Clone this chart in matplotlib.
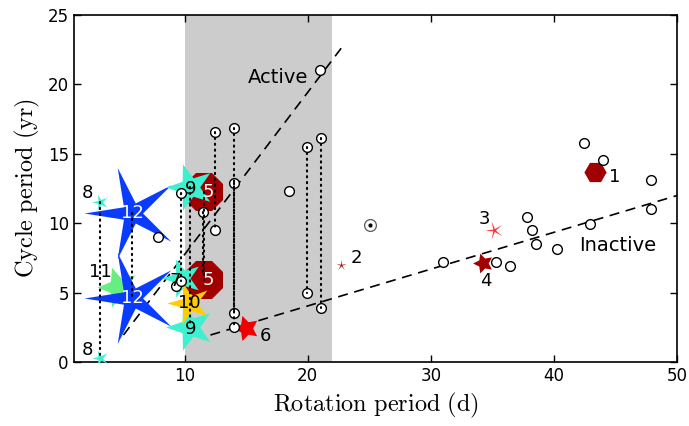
import numpy as np
import matplotlib
matplotlib.use("Agg")
import matplotlib.pyplot as plt
from matplotlib.path import Path
from matplotlib.markers import MarkerStyle
from matplotlib.transforms import Affine2D

plt.rcParams["mathtext.fontset"] = "cm"
plt.rcParams["font.family"] = ["DejaVu Sans"]

# ---- data -------------------------------------------------------------
# single-cycle comparison stars (rotation period d, cycle period yr)
single_prot = [7.83, 9.32, 18.5, 21.0, 30.98, 35.3, 36.4, 37.8, 38.2, 38.5,
               40.2, 42.4, 43.95, 42.95, 47.9, 47.9]
single_pcyc = [9.03, 5.48, 12.32, 21.0, 7.18, 7.18, 6.92, 10.42, 9.51, 8.5,
               8.12, 15.75, 14.55, 9.94, 13.11, 11.0]

# comparison stars with two cycles (long and short cycle at the same rotation)
double_prot = [9.73, 11.49, 12.44, 14.0, 14.0, 19.97, 21.1]
double_long = [12.15, 10.83, 16.55, 16.88, 12.87, 15.46, 16.16]
double_short = [5.84, 6.4, 9.51, 3.5, 2.5, 4.99, 3.86]

# the Sun
sun_prot = 25.07
sun_pcyc = 9.87

# numbered sample stars
num_id = [1, 2, 3, 4, 5, 5, 6, 7, 8, 8, 9, 9, 10, 11, 12, 12]
num_prot = [43.3, 22.68, 35.15, 34.2, 11.6, 11.6, 14.96, 9.8, 3.12, 3.12,
            10.4, 10.4, 10.35, 4.6, 5.74, 5.74]
num_pcyc = [13.7, 6.99, 9.51, 7.11, 12.22, 5.9, 2.45, 6.03, 11.55, 0.27,
            12.6, 2.5, 4.22, 5.4, 10.77, 4.59]

# active / inactive sequences
active_x = [5.04, 22.8]
active_y = [1.95, 22.7]
inactive_x = [12.1, 50.0]
inactive_y = [1.95, 12.0]

# ---- styles -----------------------------------------------------------
def star_marker(inner, rot):
    n = 5
    ang = np.deg2rad(90 + np.arange(2 * n) * 180.0 / n)
    rad = np.where(np.arange(2 * n) % 2 == 0, 1.0, inner)
    verts = np.column_stack([rad * np.cos(ang), rad * np.sin(ang)])
    verts = np.vstack([verts, verts[:1]])
    path = Path(verts, closed=True)
    return MarkerStyle(path, transform=Affine2D().rotate_deg(rot))


style = {
    1: dict(marker="H", ms=16, color="#a00000", txt=(14, -4), tc="k", z=2),
    2: dict(marker=star_marker(0.15, 0), ms=8, color="#a00000", txt=(11, 5), tc="k", z=2),
    3: dict(marker=star_marker(0.15, 18), ms=14, color="#ff3333", txt=(-7, 8), tc="k", z=2),
    4: dict(marker=star_marker(0.5, 18), ms=15, color="#a00000", txt=(2, -13), tc="k", z=2),
    5: dict(marker="8", ms=29, color="#a00000", txt=(3, 0), tc="w", z=2.2),
    6: dict(marker=star_marker(0.5, 18), ms=19, color="#ee0000", txt=(14, -6), tc="k", z=2),
    7: dict(marker=star_marker(0.4, 18), ms=29, color="#3ef0cf", txt=(-5, -2), tc="k", z=2.5),
    8: dict(marker=star_marker(0.3, 18), ms=12, color="#3ef0cf", txt=(-9, 6), tc="k", z=2.6),
    9: dict(marker=star_marker(0.4, 18), ms=35, color="#3ef0cf", txt=(1, -1), tc="k", z=2.3),
    10: dict(marker=star_marker(0.35, 18), ms=32, color="#ffcc00", txt=(0, 0), tc="k", z=2.6),
    11: dict(marker=star_marker(0.45, 18), ms=30, color="#66ee80", txt=(-13, 11), tc="k", z=2.0),
    12: dict(marker=star_marker(0.22, 18), ms=69, color="#0a3cff", txt=(0, 0), tc="w", z=2.1),
}

# ---- figure -----------------------------------------------------------
fig = plt.figure(figsize=(6.89, 4.26), dpi=100)
ax = fig.add_axes([0.107, 0.150, 0.876, 0.815])

ax.axvspan(10, 22, color="0.8", lw=0, zorder=0)

dash = dict(color="k", lw=1.2, dashes=(6, 4), zorder=1)
ax.plot(active_x, active_y, **dash)
ax.plot(inactive_x, inactive_y, **dash)

for sid, x, y in zip(num_id, num_prot, num_pcyc):
    st = style[sid]
    ax.plot(x, y, linestyle="none", marker=st["marker"],
            ms=st["ms"], color=st["color"], mew=0, zorder=st["z"])

circ = dict(linestyle="none", marker="o", ms=7, mfc="w", mec="k", mew=1)
ax.plot(single_prot, single_pcyc, zorder=3, **circ)

# circles lying under a large "5" marker are drawn beneath it
big5 = [(x, y) for sid, x, y in zip(num_id, num_prot, num_pcyc) if sid == 5]
for x, a, b in zip(double_prot, double_long, double_short):
    for y in (a, b):
        hidden = any(abs(x - px) < 0.6 and abs(y - py) < 0.6 for px, py in big5)
        ax.plot(x, y, zorder=2.15 if hidden else 3, **circ)

# vertical connectors for objects with two cycles
dot = dict(color="k", lw=1.5, linestyle=(0, (0.6, 2.2)), dash_capstyle="round", zorder=4)
for x, a, b in zip(double_prot, double_long, double_short):
    ax.plot([x, x], [a, b], **dot)
seen = {}
for sid, x, y in zip(num_id, num_prot, num_pcyc):
    seen.setdefault(sid, []).append((x, y))
for sid, pts in seen.items():
    if len(pts) == 2:
        ax.plot([pts[0][0], pts[1][0]], [pts[0][1], pts[1][1]], **dot)

ax.plot(sun_prot, sun_pcyc, linestyle="none", marker="o", ms=8.5, mfc="w",
        mec="0.35", mew=0.9, zorder=3)
ax.plot(sun_prot, sun_pcyc, linestyle="none", marker="o", ms=2, color="k", zorder=3.1)

for sid, x, y in zip(num_id, num_prot, num_pcyc):
    st = style[sid]
    ax.annotate(str(sid), (x, y), xytext=st["txt"], textcoords="offset points",
                ha="center", va="center", fontsize=13, color=st["tc"], zorder=6)

ax.text(17.6, 20.5, "Active", fontsize=14, ha="center", va="center")
ax.text(45.2, 8.4, "Inactive", fontsize=14, ha="center", va="center")

ax.set_xlim(1, 50)
ax.set_ylim(0, 25)
ax.set_xticks([10, 20, 30, 40, 50])
ax.set_yticks([0, 5, 10, 15, 20, 25])
ax.tick_params(direction="in", top=True, right=True, length=5, width=1,
               labelsize=12)
for s in ax.spines.values():
    s.set_linewidth(1.2)
ax.set_xlabel(r"$\mathrm{Rotation\ period\ (d)}$", fontsize=17.5)
ax.set_ylabel(r"$\mathrm{Cycle\ period\ (yr)}$", fontsize=17.5)

fig.savefig("out.png", dpi=100)
